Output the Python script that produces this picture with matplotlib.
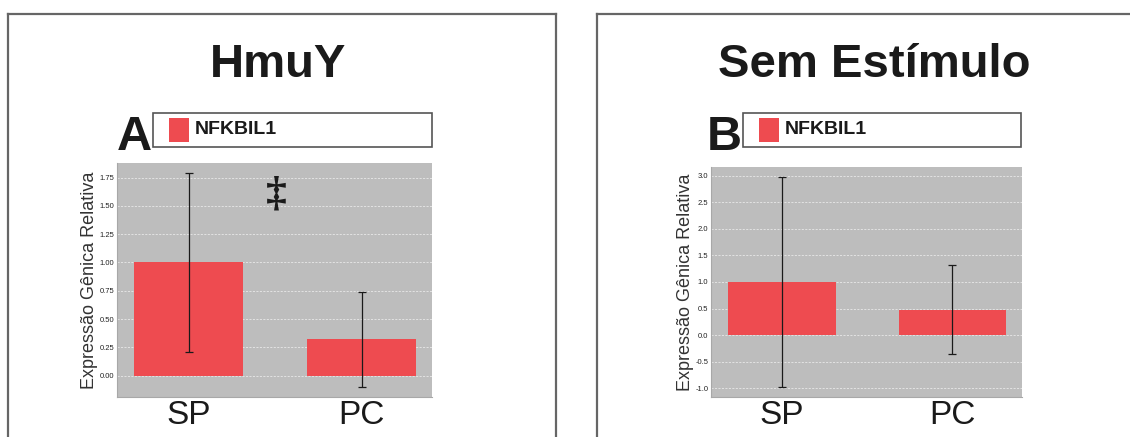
import matplotlib.pyplot as plt
import numpy as np
from matplotlib.patches import Rectangle
from matplotlib.lines import Line2D

# fold-change values (mean and error) per group
groups = ['SP', 'PC']
gene = 'NFKBIL1'

hmuy_mean = [1.00, 0.32]
hmuy_err = [0.79, 0.42]
hmuy_ticks = [0.00, 0.25, 0.50, 0.75, 1.00, 1.25, 1.50, 1.75]

sem_mean = [1.00, 0.48]
sem_err = [1.98, 0.84]
sem_ticks = [-1.0, -0.5, 0.0, 0.5, 1.0, 1.5, 2.0, 2.5, 3.0]

W, H = 1130, 437
BAR_RED = '#ee4b50'
PANEL_BG = '#bdbdbd'

plt.rcParams['font.family'] = ['Liberation Sans', 'DejaVu Sans']

fig = plt.figure(figsize=(W / 100, H / 100), dpi=100)
fig.patch.set_facecolor('white')


def px(x, y):
    # pixel coords (top-left origin) -> figure fraction
    return x / W, 1 - y / H


def frame(x0, x1, top):
    kw = dict(transform=fig.transFigure, color='#666666', lw=1.6)
    fig.add_artist(Line2D([x0 / W, x0 / W], [0, 1 - top / H], **kw))
    fig.add_artist(Line2D([x0 / W, x1 / W], [1 - top / H, 1 - top / H], **kw))
    if x1 < W:
        fig.add_artist(Line2D([x1 / W, x1 / W], [0, 1 - top / H], **kw))


def legend_box(letter, x0, x1, y0, y1):
    fx0, fy1 = px(x0, y0)
    fx1, fy0 = px(x1, y1)
    fig.add_artist(Rectangle((fx0, fy0), fx1 - fx0, fy1 - fy0, transform=fig.transFigure,
                             facecolor='white', edgecolor='#555555', lw=1.2))
    sx, sy = px(x0 + 16, y1 - 5)
    fig.add_artist(Rectangle((sx, sy), 20 / W, 24 / H, transform=fig.transFigure,
                             facecolor=BAR_RED, edgecolor='none'))
    tx, ty = px(x0 + 42, (y0 + y1) / 2)
    fig.text(tx, ty, gene, fontsize=14, fontweight='bold', color='#1a1a1a',
             va='center', ha='left')
    lx, ly = px(x0 - 1, y1 + 3)
    fig.text(lx, ly, letter, fontsize=35, fontweight='bold', color='#1a1a1a',
             ha='right', va='baseline')


def bar_panel(rect, means, errs, ticks, ylim, fmt):
    l, t, r, b = rect
    ax = fig.add_axes([l / W, 1 - b / H, (r - l) / W, (b - t) / H])
    ax.set_facecolor(PANEL_BG)
    x = np.arange(len(groups))
    ax.bar(x, means, width=0.63, color=BAR_RED, zorder=2)
    ax.errorbar(x, means, yerr=errs, fmt='none', ecolor='#1a1a1a', elinewidth=0.9,
                capsize=3, capthick=0.9, zorder=3)
    ax.set_xlim(-0.414, 1.407)
    ax.set_ylim(*ylim)
    ax.set_yticks(ticks)
    ax.set_yticklabels([fmt % v for v in ticks], fontsize=5.5, color='#222222')
    ax.set_xticks(x)
    ax.set_xticklabels(groups, fontsize=24, color='#1a1a1a')
    ax.tick_params(axis='y', length=0, pad=2)
    ax.tick_params(axis='x', length=0, pad=2)
    ax.grid(axis='y', color='white', linestyle=(0, (3, 2)), linewidth=0.5, alpha=0.8, zorder=1)
    ax.set_axisbelow(True)
    for s in ['top', 'right']:
        ax.spines[s].set_visible(False)
    for s in ['left', 'bottom']:
        ax.spines[s].set_color('#a8a8a8')
        ax.spines[s].set_linewidth(0.8)
    ax.set_ylabel('Expressão Gênica Relativa', fontsize=13, color='#333333', labelpad=1)
    return ax


# left panel: HmuY
frame(8, 556, 14)
fig.text(*px(278, 65), 'HmuY', fontsize=34, fontweight='bold', color='#1a1a1a',
         ha='center', va='center')
legend_box('A', 153, 432, 113, 147)
ax_a = bar_panel((117, 163, 432, 397), hmuy_mean, hmuy_err, hmuy_ticks, (-0.19, 1.88), '%.2f')
ax_a.text(0.505, 1.60, '‡', family=['Liberation Serif', 'DejaVu Serif'], fontweight='bold',
          fontsize=30, ha='center', va='center', color='#1a1a1a')

# right panel: Sem Estímulo
frame(597, W + 10, 14)
fig.text(*px(874, 65), 'Sem Estímulo', fontsize=34, fontweight='bold', color='#1a1a1a',
         ha='center', va='center')
legend_box('B', 743, 1021, 113, 147)
bar_panel((711, 167, 1022, 397), sem_mean, sem_err, sem_ticks, (-1.16, 3.16), '%.1f')

fig.savefig('out.png', dpi=100)
